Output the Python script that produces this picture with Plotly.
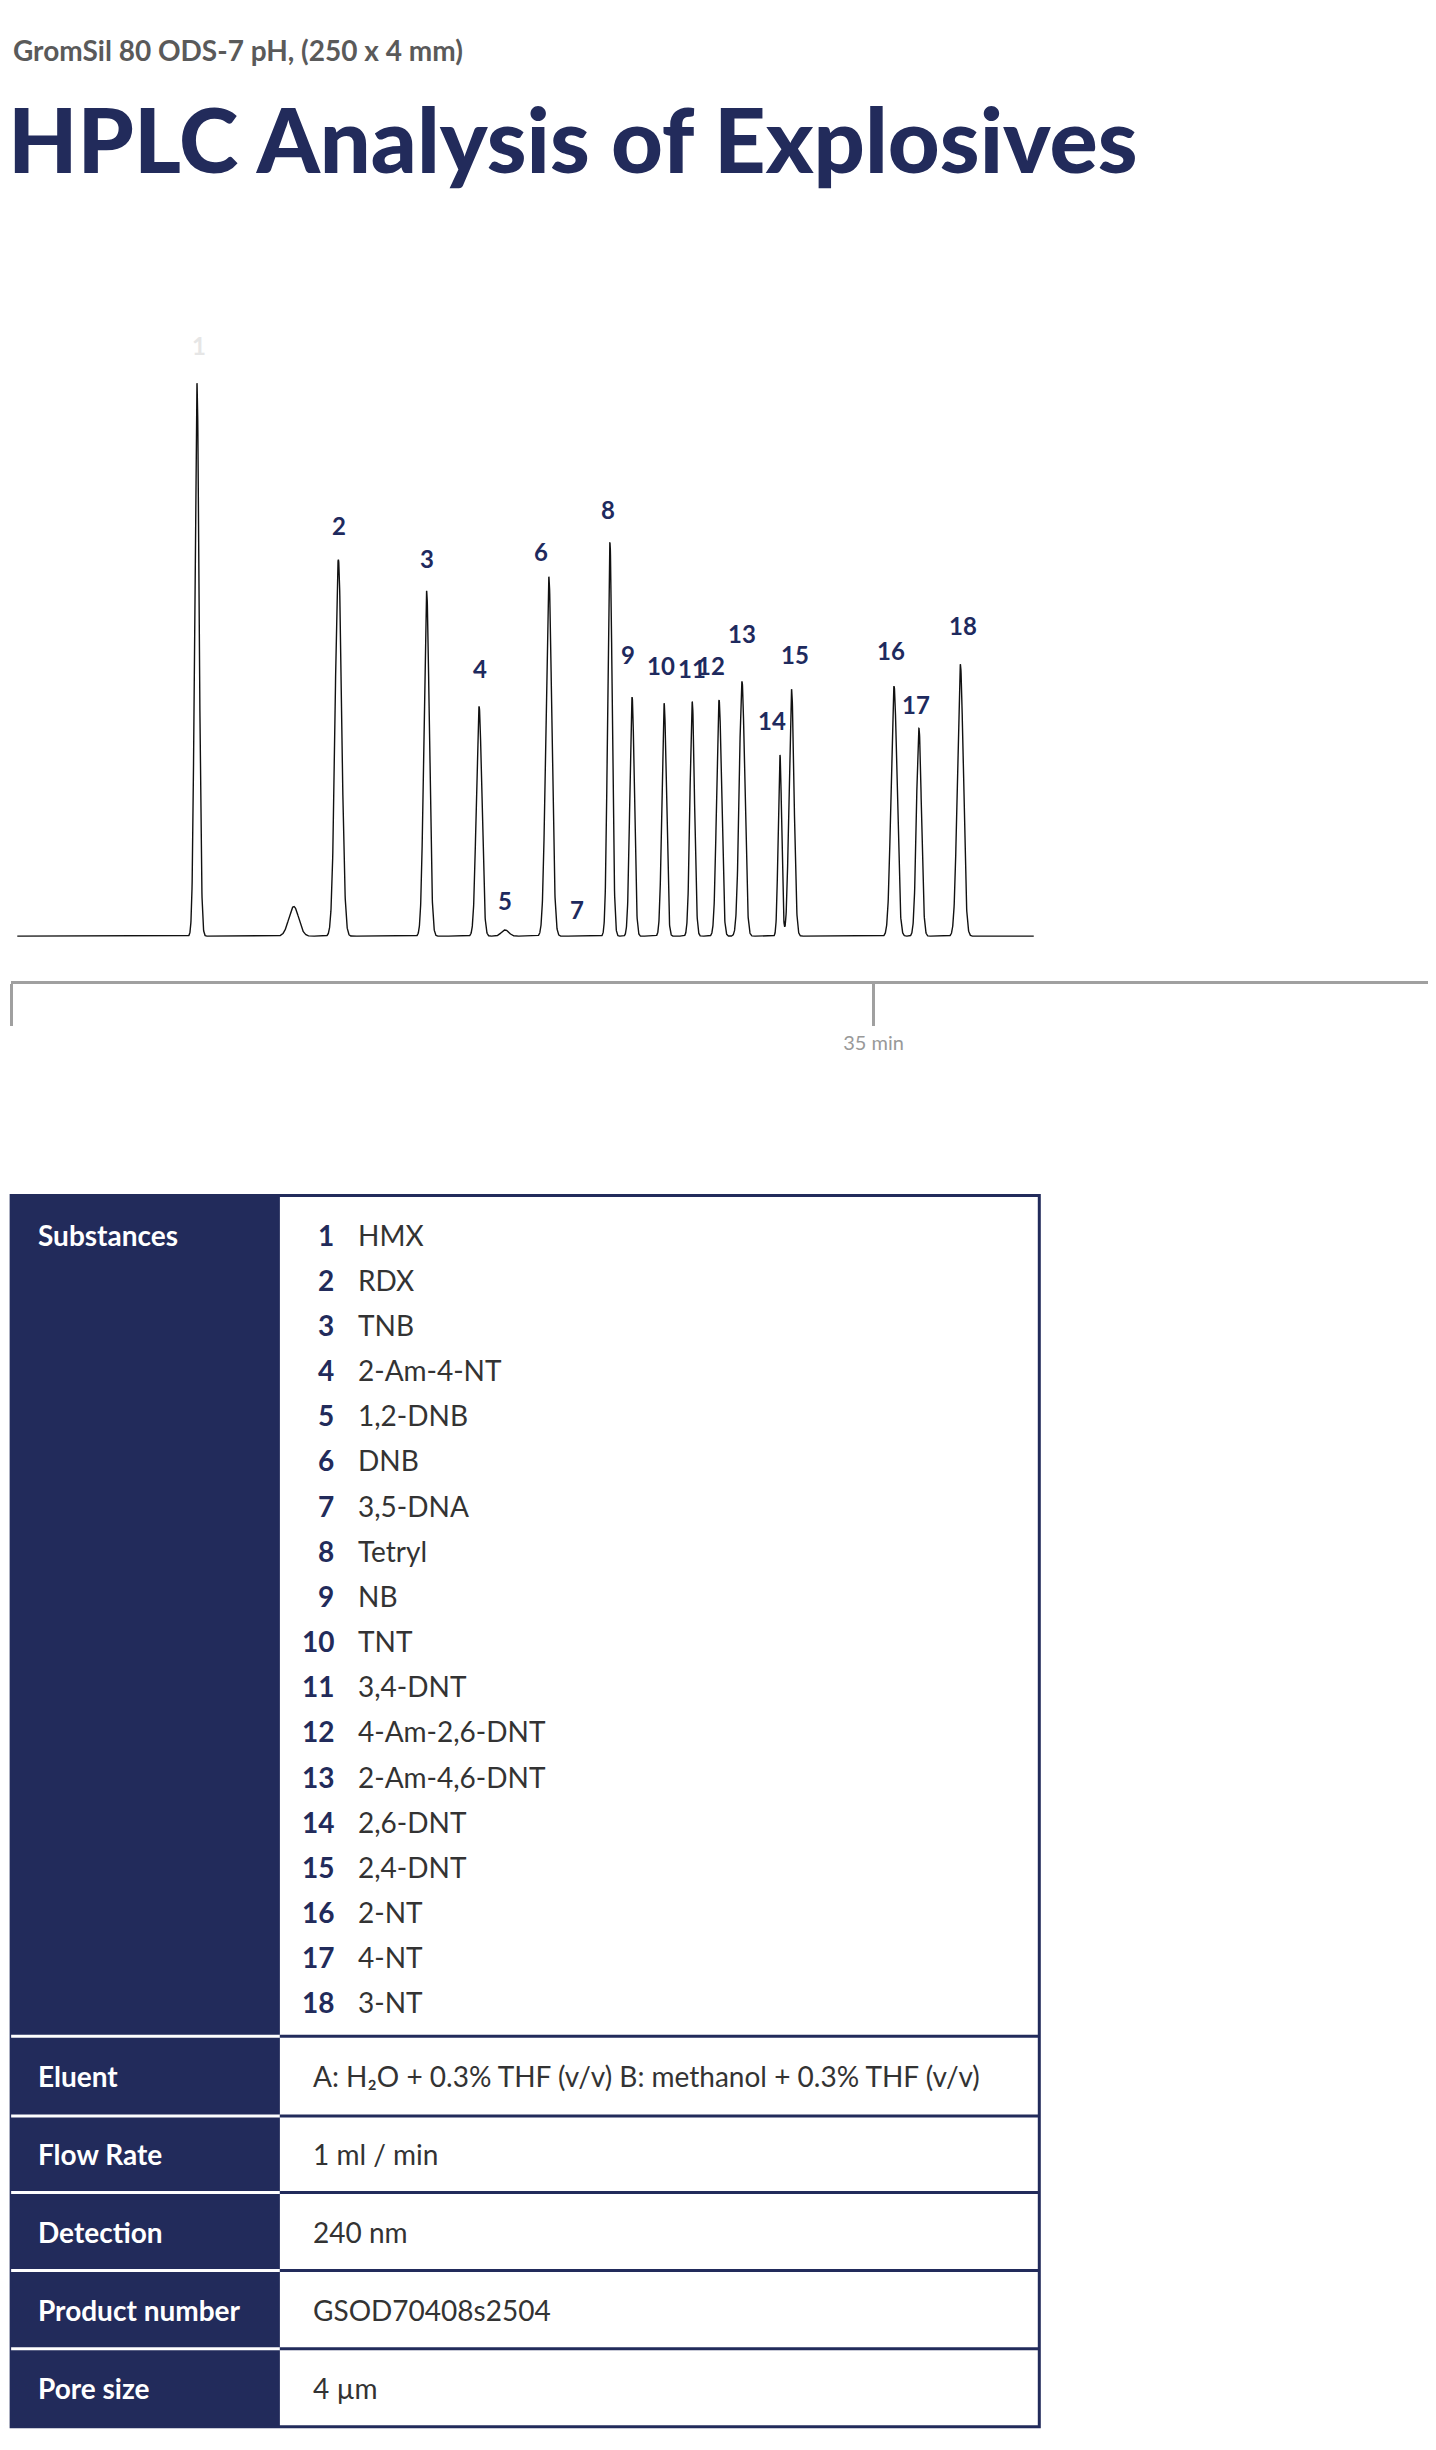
import numpy as np
import plotly.graph_objects as go

# peak data (retention time in min, height in arbitrary units)
peak_ids = ["1", "2", "3", "4", "5", "6", "7", "8", "9", "10", "11", "12",
            "13", "14", "15", "16", "17", "18"]
peak_time = [7.54, 13.28, 16.86, 18.99, 20.05, 21.82, 23.2, 24.30, 25.20, 26.50,
             27.64, 28.73, 29.66, 31.20, 31.67, 35.83, 36.84, 38.52]
peak_height = [354, 241, 221, 147, 4, 230, 0, 252, 153, 149,
               150, 151, 163, 116, 158, 160, 133, 174]
peak_width = [0.09, 0.13, 0.11, 0.11, 0.15, 0.12, 0.1, 0.09, 0.09, 0.09,
              0.09, 0.10, 0.11, 0.07, 0.10, 0.12, 0.10, 0.12]
# unlabelled bump before peak 2
extra_time = [11.47]
extra_height = [19]
extra_width = [0.2]

label_time = [7.61, 13.32, 16.87, 19.02, 20.04, 21.5, 22.95, 24.22, 25.05, 26.38,
              27.65, 28.41, 29.68, 30.88, 31.83, 35.7, 36.71, 38.62]
label_height = [378, 263, 242, 171, 23, 246, 17, 273, 180, 173,
                171, 173, 194, 138, 180, 183, 148, 199]

substances = ["HMX", "RDX", "TNB", "2-Am-4-NT", "1,2-DNB", "DNB", "3,5-DNA", "Tetryl",
              "NB", "TNT", "3,4-DNT", "4-Am-2,6-DNT", "2-Am-4,6-DNT", "2,6-DNT",
              "2,4-DNT", "2-NT", "4-NT", "3-NT"]
info_labels = ["Eluent", "Flow Rate", "Detection", "Product number", "Pore size"]
info_values = ["A: H\u2082O + 0.3% THF (v/v) B: methanol + 0.3% THF (v/v)", "1 ml / min",
               "240 nm", "GSOD70408s2504", "4 \u00b5m"]

NAVY = "#222b5b"
W, H = 1436, 2450
S = 1436 / 919  # reference layout measured at 919 px width
DX, DY = 20, 5  # page offset correction


def px(x):
    return (x - DX) * S / W


def py(y):
    return 1 - (y - DY) * S / H


t = np.linspace(0.25, 41.5, 8000)
signal = np.zeros_like(t)
for c, h, w in zip(peak_time + extra_time, peak_height + extra_height, peak_width + extra_width):
    signal += h * np.exp(-0.5 * ((t - c) / w) ** 2)

fig = go.Figure()
fig.add_trace(go.Scatter(x=t, y=signal, mode="lines",
                         line=dict(color="#111111", width=1.4), hoverinfo="skip"))

for i, lab in enumerate(peak_ids):
    fig.add_annotation(x=label_time[i], y=label_height[i], text=lab, showarrow=False,
                       xref="x", yref="y",
                       font=dict(family="Lato", size=24, weight="bold",
                                 color="#e6e6e6" if i == 0 else "#1e2a5e"))

# header
fig.add_annotation(x=px(22), y=py(32), xref="paper", yref="paper", xanchor="left",
                   yanchor="middle", showarrow=False,
                   text="GromSil 80 ODS-7 pH, (250 x 4 mm)",
                   font=dict(family="Lato", size=28, weight="bold", color="#5a5a5a"))
fig.add_annotation(x=px(19), y=py(88), xref="paper", yref="paper", xanchor="left",
                   yanchor="middle", showarrow=False,
                   text="HPLC Analysis of Explosives",
                   font=dict(family="Lato", size=90, weight=900, color=NAVY))

# table
tx0, tx1, tsplit = 22, 680, 194
ty0, ty1 = 765, 1553
row_edges = [1303, 1354, 1403, 1453, 1503, 1553]
fig.add_shape(type="rect", xref="paper", yref="paper", x0=px(tx0), x1=px(tsplit),
              y0=py(ty0), y1=py(ty1), fillcolor=NAVY, line=dict(width=0), layer="below")
fig.add_shape(type="rect", xref="paper", yref="paper", x0=px(tx0), x1=px(tx1),
              y0=py(ty0), y1=py(ty1), line=dict(color=NAVY, width=3))
for ye in row_edges[:-1]:
    fig.add_shape(type="line", xref="paper", yref="paper", x0=px(tx0), x1=px(tsplit),
                  y0=py(ye), y1=py(ye), line=dict(color="white", width=3))
    fig.add_shape(type="line", xref="paper", yref="paper", x0=px(tsplit), x1=px(tx1),
                  y0=py(ye), y1=py(ye), line=dict(color=NAVY, width=3))

fig.add_annotation(x=px(38), y=py(790), xref="paper", yref="paper", xanchor="left",
                   yanchor="middle", showarrow=False, text="Substances",
                   font=dict(family="Lato", size=28, weight="bold", color="white"))
for i, name in enumerate(substances):
    yy = py(790 + i * 28.9)
    fig.add_annotation(x=px(230), y=yy, xref="paper", yref="paper", xanchor="right",
                       yanchor="middle", showarrow=False, text=str(i + 1),
                       font=dict(family="Lato", size=28, weight="bold", color=NAVY))
    fig.add_annotation(x=px(243), y=yy, xref="paper", yref="paper", xanchor="left",
                       yanchor="middle", showarrow=False, text=name,
                       font=dict(family="Lato", size=28, color="#333333"))

for i, (lab, val) in enumerate(zip(info_labels, info_values)):
    yc = (row_edges[i] + row_edges[i + 1]) / 2
    fig.add_annotation(x=px(38), y=py(yc), xref="paper", yref="paper", xanchor="left",
                       yanchor="middle", showarrow=False, text=lab,
                       font=dict(family="Lato", size=28, weight="bold", color="white"))
    fig.add_annotation(x=px(214), y=py(yc), xref="paper", yref="paper", xanchor="left",
                       yanchor="middle", showarrow=False, text=val,
                       font=dict(family="Lato", size=28, color="#333333"))

x_end = (919 + DX - 22) / 15.77
fig.update_layout(
    width=W, height=H, margin=dict(l=0, r=0, t=0, b=0),
    paper_bgcolor="white", plot_bgcolor="white", showlegend=False,
    xaxis=dict(domain=[px(22), 1], range=[0, x_end], showgrid=False, zeroline=False,
               showline=True, linecolor="#a0a0a0", linewidth=3,
               ticks="outside", ticklen=42, tickwidth=3, tickcolor="#a0a0a0",
               tickvals=[0, 35], ticktext=["0 min", "35 min"],
               tickfont=dict(family="Lato", size=20, color="#999999")),
    yaxis=dict(domain=[py(628), py(190)], range=[-29, 409], visible=False),
)

fig.write_html("out.html")
